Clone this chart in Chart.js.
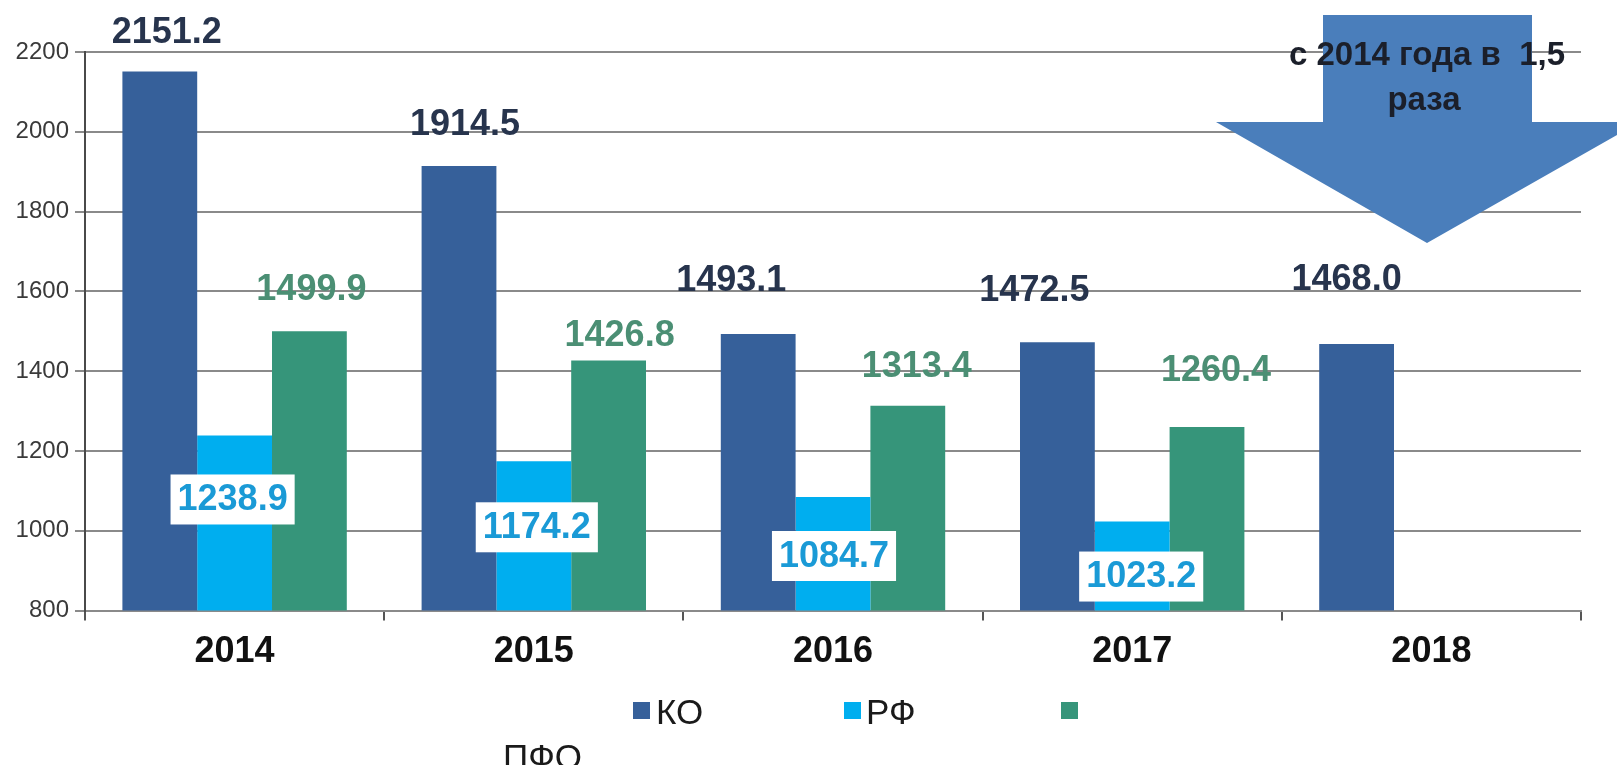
<!DOCTYPE html>
<html>
<head>
<meta charset="utf-8">
<script src="https://cdn.jsdelivr.net/npm/chart.js@4.4.1/dist/chart.umd.min.js"></script>
<style>
  html, body { margin: 0; padding: 0; background: #ffffff; }
  #wrap { width: 1617px; height: 765px; position: relative; }
</style>
</head>
<body>
<div id="wrap"><canvas id="c"></canvas></div>
<script>
// ---- data ----
const categories = ['2014', '2015', '2016', '2017', '2018'];
const seriesNames = ['КО', 'РФ', 'ПФО'];
const koValues  = [2151.2, 1914.5, 1493.1, 1472.5, 1468.0];
const rfValues  = [1238.9, 1174.2, 1084.7, 1023.2, null];
const pfoValues = [1499.9, 1426.8, 1313.4, 1260.4, null];
const yMin = 800, yMax = 2200, yStep = 200;
const arrowLines = ['с 2014 года в  1,5', 'раза'];

// ---- styling (label nudges relative to bar top, px) ----
const koLabelNudge  = [[7, -39], [6, -42], [-27, -54], [-23, -52], [-10, -65]];
const rfLabelNudge  = [[-2, 64], [3, 66], [1, 59], [9, 55]];
const pfoLabelNudge = [[2, -42], [11, -25], [9, -40], [9, -57]];
const colors = ['#36609a', '#00aeef', '#36957a'];
const FONT = '"Liberation Sans", Arial, sans-serif';

const valueLabels = {
  id: 'valueLabels',
  afterDatasetsDraw(chart) {
    const ctx = chart.ctx;
    const sets = [
      { i: 0, nudge: koLabelNudge, color: '#27344d', box: false },
      { i: 1, nudge: rfLabelNudge, color: '#1a9ad6', box: true },
      { i: 2, nudge: pfoLabelNudge, color: '#4b8f74', box: false }
    ];
    ctx.save();
    ctx.font = 'bold 36px ' + FONT;
    ctx.textAlign = 'center';
    ctx.textBaseline = 'middle';
    sets.forEach(s => {
      const meta = chart.getDatasetMeta(s.i);
      const data = chart.data.datasets[s.i].data;
      meta.data.forEach((bar, j) => {
        if (data[j] == null) return;
        const txt = data[j].toFixed(1);
        const n = s.nudge[j] || [0, 0];
        const x = bar.x + n[0];
        const y = bar.y + n[1];
        if (s.box) {
          const w = ctx.measureText(txt).width + 14;
          const h = 50;
          ctx.fillStyle = '#ffffff';
          ctx.fillRect(x - w / 2, y - h / 2, w, h);
        }
        ctx.fillStyle = s.color;
        ctx.fillText(txt, x, y + 1);
      });
    });
    ctx.restore();
  }
};

const arrowAndLegend = {
  id: 'arrowAndLegend',
  afterDraw(chart) {
    const ctx = chart.ctx;
    ctx.save();
    // block arrow
    ctx.fillStyle = '#4a7ebb';
    ctx.beginPath();
    ctx.moveTo(1323, 15);
    ctx.lineTo(1532, 15);
    ctx.lineTo(1532, 122);
    ctx.lineTo(1640, 122);
    ctx.lineTo(1427, 243);
    ctx.lineTo(1216, 122);
    ctx.lineTo(1323, 122);
    ctx.closePath();
    ctx.fill();
    ctx.fillStyle = '#1b1f2a';
    ctx.font = 'bold 33px ' + FONT;
    ctx.textAlign = 'center';
    ctx.textBaseline = 'middle';
    ctx.fillText(arrowLines[0], 1427, 56);
    ctx.fillText(arrowLines[1], 1424, 101);

    // legend
    const items = [
      { sx: 633, sy: 702, tx: 656, ty: 714 },
      { sx: 844, sy: 702, tx: 866, ty: 714 },
      { sx: 1061, sy: 702, tx: 503, ty: 759 }
    ];
    ctx.font = '35px ' + FONT;
    ctx.textAlign = 'left';
    chart.data.datasets.forEach((ds, k) => {
      const it = items[k];
      ctx.fillStyle = ds.backgroundColor;
      ctx.fillRect(it.sx, it.sy, 17, 17);
      ctx.fillStyle = '#1a1a1a';
      ctx.fillText(ds.label, it.tx, it.ty);
    });
    ctx.restore();
  }
};

new Chart(document.getElementById('c'), {
  type: 'bar',
  data: {
    labels: categories,
    datasets: [
      { label: seriesNames[0], data: koValues,  backgroundColor: colors[0] },
      { label: seriesNames[1], data: rfValues,  backgroundColor: colors[1] },
      { label: seriesNames[2], data: pfoValues, backgroundColor: colors[2] }
    ]
  },
  options: {
    responsive: true,
    maintainAspectRatio: false,
    animation: false,
    devicePixelRatio: 1,
    layout: { padding: { top: 52, right: 36, left: 0, bottom: 0 } },
    datasets: { bar: { categoryPercentage: 0.75, barPercentage: 1.0 } },
    plugins: { legend: { display: false }, tooltip: { enabled: false } },
    scales: {
      x: {
        afterFit(s) { s.height = 154.4; },
        grid: { display: true, drawOnChartArea: false, offset: true, tickLength: 10, color: '#555555', lineWidth: 2 },
        border: { display: true, color: '#8a8a8a', width: 2 },
        ticks: { font: { family: FONT, size: 36, weight: 'bold' }, color: '#111111', padding: 10 }
      },
      y: {
        min: yMin, max: yMax,
        afterFit(s) { s.width = 85; },
        grid: { color: '#8a8a8a', lineWidth: 2, tickLength: 10, drawTicks: true },
        border: { display: true, color: '#4a4a4a', width: 2 },
        ticks: { stepSize: yStep, font: { family: FONT, size: 24 }, color: '#3a3a3a', padding: 6,
                 callback: v => String(v) }
      }
    }
  },
  plugins: [valueLabels, arrowAndLegend]
});
</script>
</body>
</html>
